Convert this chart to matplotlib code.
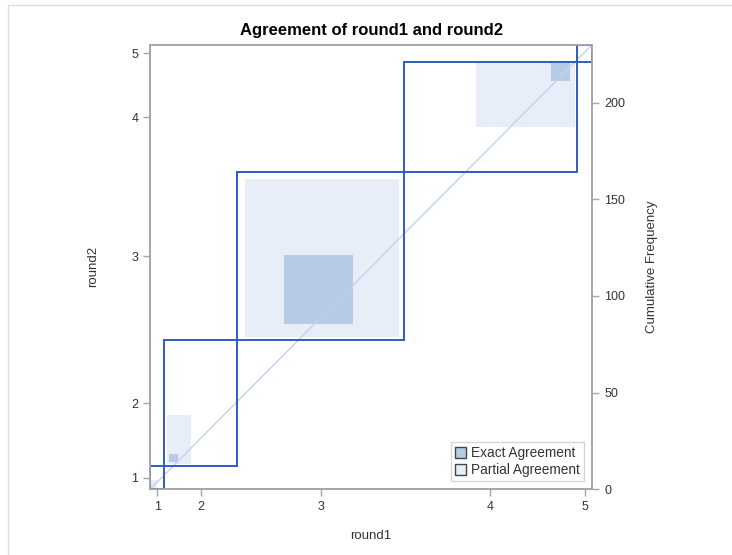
import matplotlib.pyplot as plt
from matplotlib.patches import Rectangle, Patch
from matplotlib.lines import Line2D

plt.rcParams['font.family'] = ['Liberation Sans', 'DejaVu Sans']

# agreement plot data, in cumulative frequency units
categories = ['1', '2', '3', '4', '5']
total_n = 230
col_cum = [7.5, 45.5, 132, 222, 230]     # round1 (x)
row_cum = [12, 77, 164, 221, 230]        # round2 (y)

# shaded squares inside each category rectangle: (x0, x1, y0, y1)
exact_rects = [(0, 1, 0, 1),
               (10, 14.5, 14, 18),
               (69.5, 105.5, 85.5, 121),
               (208.5, 218.5, 211, 220.5)]
partial_rects = [(0, 3.5, 0, 5),
                 (9, 21.5, 13, 38.5),
                 (49.5, 129.5, 78.5, 160.5),
                 (169.5, 221, 187.5, 220.5)]
freq_ticks = [0, 50, 100, 150, 200]

line_blue = '#2F5BC4'
exact_col = '#B7CBE5'
partial_col = '#E8EEF7'
grey = '#A6A6A6'
txt = '#333333'

fig = plt.figure(figsize=(7.32, 5.55), dpi=100)
ax = fig.add_axes([150 / 732, 1 - 489.3 / 555, 442.3 / 732, 444.8 / 555])

# outer light border of the graph
fig.add_artist(Line2D([8 / 732, 1], [1 - 5 / 555, 1 - 5 / 555], color='#DDDDDD', lw=1))
fig.add_artist(Line2D([8 / 732, 8 / 732], [0, 1 - 5 / 555], color='#DDDDDD', lw=1))

for x0, x1, y0, y1 in partial_rects:
    ax.add_patch(Rectangle((x0, y0), x1 - x0, y1 - y0, facecolor=partial_col,
                           edgecolor='none', zorder=1))
for x0, x1, y0, y1 in exact_rects:
    ax.add_patch(Rectangle((x0, y0), x1 - x0, y1 - y0, facecolor=exact_col,
                           edgecolor='none', zorder=2))

ax.plot([0, total_n], [0, total_n], color='#C3D1EE', lw=1, zorder=3)

cx = [0] + col_cum
cy = [0] + row_cum
for i in range(len(categories)):
    ax.add_patch(Rectangle((cx[i], cy[i]), cx[i + 1] - cx[i], cy[i + 1] - cy[i],
                           facecolor='none', edgecolor=line_blue, lw=1.4, zorder=4))

ax.set_xlim(0, total_n)
ax.set_ylim(0, total_n)

xmid = [(cx[i] + cx[i + 1]) / 2 for i in range(len(categories))]
ymid = [(cy[i] + cy[i + 1]) / 2 for i in range(len(categories))]
ax.set_xticks(xmid)
ax.set_xticklabels(categories)
ax.set_yticks(ymid)
ax.set_yticklabels(categories)

ax2 = ax.twinx()
ax2.set_ylim(0, total_n)
ax2.set_yticks(freq_ticks)

for a in (ax, ax2):
    for s in a.spines.values():
        s.set_color(grey)
        s.set_linewidth(1.2)
    a.tick_params(colors=grey, labelcolor=txt, labelsize=9, length=5, width=1, direction='out')

ax.set_xlabel('round1', fontsize=9.5, color=txt, labelpad=12)
ax.set_ylabel('round2', fontsize=9.5, color=txt, labelpad=23)
ax2.set_ylabel('Cumulative Frequency', fontsize=9.5, color=txt, labelpad=15)
ax.set_title('Agreement of round1 and round2', fontsize=12, fontweight='bold', pad=7)

handles = [Patch(facecolor=exact_col, edgecolor='#444444', label='Exact Agreement'),
           Patch(facecolor=partial_col, edgecolor='#444444', label='Partial Agreement')]
leg = ax2.legend(handles=handles, loc='lower right', fontsize=9.8, frameon=True,
                 fancybox=False, edgecolor='#CCCCCC', handlelength=0.8, handleheight=0.8,
                 handletextpad=0.4, borderpad=0.3, labelspacing=0.2, borderaxespad=0.6)
leg.get_frame().set_linewidth(1)
for t in leg.get_texts():
    t.set_color(txt)

plt.savefig('out.png')
plt.close()
